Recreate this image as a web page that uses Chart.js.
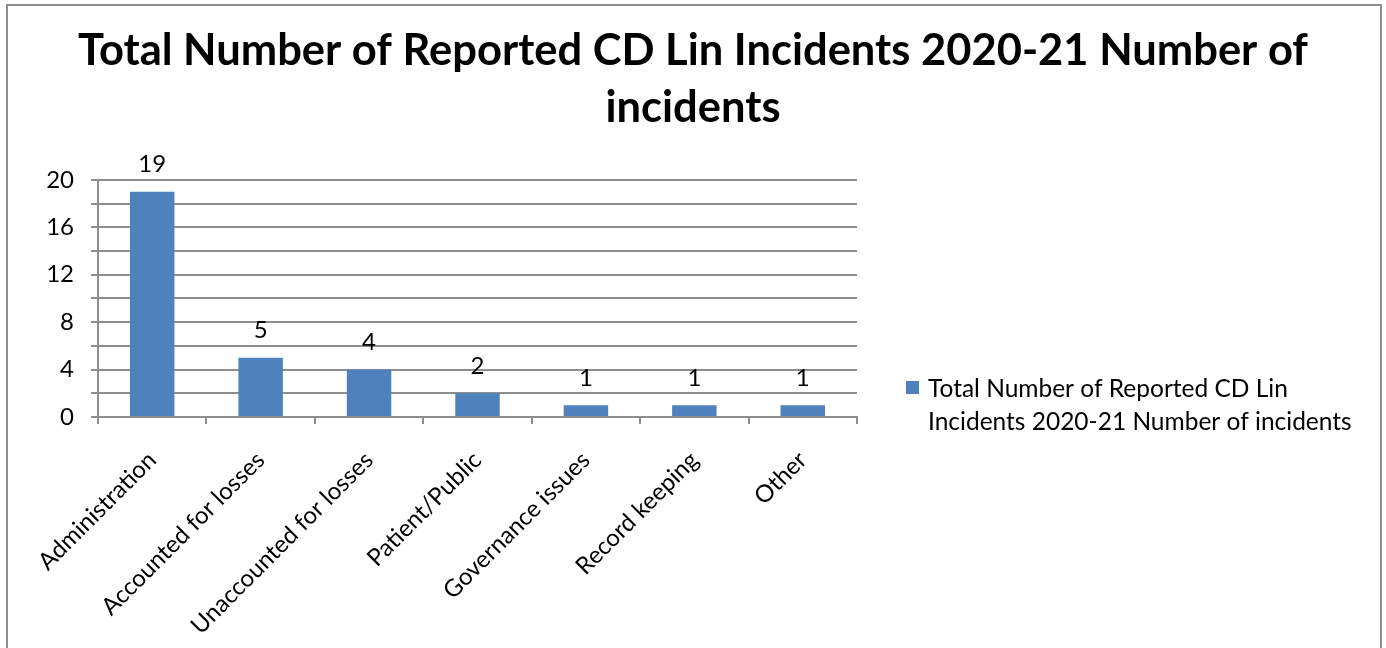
<!DOCTYPE html>
<html>
<head>
<meta charset="utf-8">
<script src="https://cdn.jsdelivr.net/npm/chart.js@4.4.1/dist/chart.umd.min.js"></script>
<style>
  html, body { margin: 0; padding: 0; background: #fff; overflow: hidden; }
  #frame {
    position: absolute; left: 6px; top: 4px; width: 1376px; height: 700px;
    border: 2px solid #8e8e8e; box-sizing: border-box;
  }
  #wrap { position: absolute; left: 0; top: 0; width: 1386px; height: 648px; }
</style>
</head>
<body>
<div id="frame"></div>
<div id="wrap"><canvas id="chart"></canvas></div>
<script>
  const FONT = "Lato, 'Open Sans', sans-serif";

  const titleLines = ["Total Number of Reported CD Lin Incidents 2020-21 Number of", "incidents"];
  const seriesName = "Total Number of Reported CD Lin Incidents 2020-21 Number of incidents";
  const legendLines = ["Total Number of Reported CD Lin", "Incidents 2020-21 Number of incidents"];
  const categories = ["Administration", "Accounted for losses", "Unaccounted for losses", "Patient/Public", "Governance issues", "Record keeping", "Other"];
  const incidents = [19, 5, 4, 2, 1, 1, 1];
  const yTicks = [0, 4, 8, 12, 16, 20];

  const barColor = "#4f81bd";
  const gridColor = "#8e8e8e";

  // numbers above each bar
  const valueLabels = {
    id: "valueLabels",
    afterDatasetsDraw(chart) {
      const ctx = chart.ctx;
      const meta = chart.getDatasetMeta(0);
      ctx.save();
      ctx.font = "24px " + FONT;
      ctx.fillStyle = "#000";
      ctx.textAlign = "center";
      ctx.textBaseline = "middle";
      meta.data.forEach((bar, i) => {
        ctx.fillText(String(chart.data.datasets[0].data[i]), bar.x, bar.y - 27);
      });
      ctx.restore();
    }
  };

  // legend on the right, wrapped onto two lines
  const sideLegend = {
    id: "sideLegend",
    afterDraw(chart) {
      const ctx = chart.ctx;
      const x = chart.chartArea.right + 49;
      const y = 389;
      ctx.save();
      ctx.fillStyle = barColor;
      ctx.fillRect(x, y - 8, 13, 13);
      ctx.fillStyle = "#000";
      ctx.font = "24.5px " + FONT;
      ctx.textAlign = "left";
      ctx.textBaseline = "middle";
      legendLines.forEach((line, i) => ctx.fillText(line, x + 22, y + i * 33));
      ctx.restore();
    }
  };

  new Chart(document.getElementById("chart"), {
    type: "bar",
    data: {
      labels: categories,
      datasets: [{
        label: seriesName,
        data: incidents,
        backgroundColor: barColor,
        barPercentage: 0.41,
        categoryPercentage: 1
      }]
    },
    options: {
      responsive: true,
      maintainAspectRatio: false,
      animation: false,
      layout: { padding: 0 },
      plugins: {
        legend: { display: false },
        tooltip: { enabled: false },
        title: {
          display: true,
          text: titleLines,
          color: "#000",
          font: { family: FONT, size: 43.5, weight: "bold", lineHeight: 1.32 },
          padding: { top: 22, bottom: 43 }
        }
      },
      scales: {
        x: {
          grid: {
            offset: true,
            drawOnChartArea: false,
            drawTicks: true,
            tickLength: 7,
            color: gridColor,
            lineWidth: 2
          },
          border: { display: true, color: gridColor, width: 2 },
          ticks: {
            color: "#000",
            font: { family: FONT, size: 24 },
            minRotation: 45,
            maxRotation: 45,
            autoSkip: false,
            padding: 22
          },
          afterFit(scale) { scale.height = 231; }
        },
        y: {
          min: 0,
          max: 20,
          grid: {
            color: gridColor,
            lineWidth: 2,
            tickLength: 7,
            drawTicks: true
          },
          border: { display: true, color: gridColor, width: 2 },
          ticks: {
            stepSize: 2,
            autoSkip: false,
            color: "#000",
            font: { family: FONT, size: 24 },
            padding: 17,
            callback: v => yTicks.includes(v) ? String(v) : ""
          },
          afterFit(scale) { scale.width = 98; }
        },
        // keeps room on the right for the legend
        spacer: {
          position: "right",
          display: true,
          min: 0,
          max: 1,
          grid: { display: false, drawTicks: false },
          border: { display: false },
          ticks: { display: false },
          afterFit(scale) { scale.width = 1386 - 857; }
        }
      }
    },
    plugins: [valueLabels, sideLegend]
  });
</script>
</body>
</html>
